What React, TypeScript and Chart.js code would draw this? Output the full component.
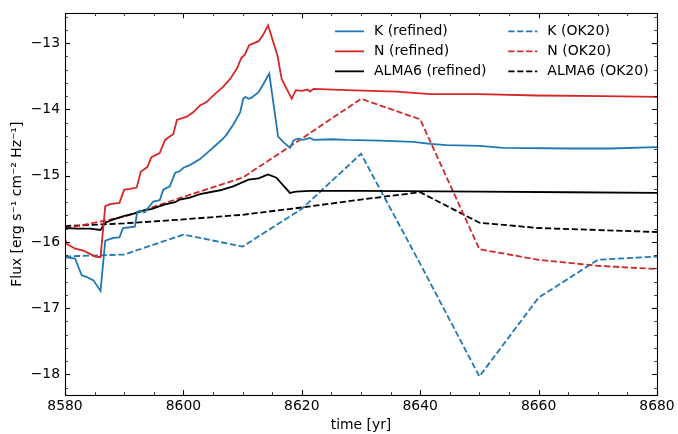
import { useEffect, useRef } from 'react';
import { Chart, registerables } from 'chart.js';

Chart.register(...registerables);

const FONT = '"DejaVu Sans", "Liberation Sans", sans-serif';
const BLUE = '#1f77b4';
const RED = '#d62728';
const BLACK = '#000000';

// ---- refined runs ----
const kRefinedT = [8580, 8581.7, 8582.8, 8583.7, 8584.8, 8586.0, 8586.8, 8588.2, 8589.2, 8589.8, 8591.8, 8592.2, 8592.6, 8593.5, 8594.1, 8594.9, 8596.0, 8596.6, 8597.7, 8598.6, 8599.4, 8600.0, 8601.1, 8602.8, 8604.2, 8605.6, 8606.6, 8607.3, 8607.9, 8608.4, 8609.0, 8609.6, 8610.1, 8610.5, 8611.0, 8611.4, 8612.7, 8613.5, 8614.5, 8616.0, 8617.0, 8618.0, 8618.6, 8619.0, 8619.4, 8620.2, 8621.4, 8622.0, 8625, 8627.6, 8633.2, 8638.8, 8641.7, 8644.5, 8650.1, 8654, 8665.3, 8672, 8680];
const kRefinedV = [-16.23, -16.25, -16.50, -16.53, -16.58, -16.74, -15.98, -15.94, -15.93, -15.79, -15.77, -15.55, -15.53, -15.55, -15.48, -15.39, -15.37, -15.21, -15.16, -14.96, -14.93, -14.88, -14.84, -14.75, -14.64, -14.53, -14.45, -14.38, -14.30, -14.23, -14.14, -14.04, -13.84, -13.81, -13.84, -13.83, -13.74, -13.62, -13.46, -14.41, -14.50, -14.58, -14.47, -14.45, -14.44, -14.46, -14.43, -14.46, -14.45, -14.46, -14.47, -14.49, -14.52, -14.54, -14.55, -14.58, -14.59, -14.59, -14.57];

const nRefinedT = [8580, 8580.3, 8581.7, 8583.1, 8584.2, 8585.1, 8586.0, 8586.8, 8587.6, 8589.2, 8590.0, 8591.0, 8592.1, 8592.8, 8593.9, 8594.6, 8596.0, 8596.9, 8598.3, 8598.9, 8600.6, 8601.7, 8602.8, 8603.9, 8605.3, 8606.7, 8607.9, 8609.0, 8609.8, 8610.4, 8611.1, 8612.7, 8613.5, 8614.3, 8615.9, 8616.6, 8618.3, 8619.0, 8620, 8621.0, 8621.4, 8622, 8627.6, 8636, 8641.7, 8650, 8659.7, 8670.9, 8680];
const nRefinedV = [-15.95, -16.03, -16.10, -16.13, -16.18, -16.22, -16.23, -15.46, -15.43, -15.41, -15.21, -15.20, -15.18, -14.94, -14.87, -14.72, -14.66, -14.46, -14.37, -14.16, -14.11, -14.04, -13.94, -13.89, -13.77, -13.66, -13.54, -13.39, -13.22, -13.17, -13.03, -12.97, -12.87, -12.73, -13.19, -13.54, -13.84, -13.71, -13.72, -13.70, -13.73, -13.69, -13.71, -13.73, -13.77, -13.77, -13.79, -13.80, -13.81];

const almaRefinedT = [8580, 8580.3, 8582.0, 8584.2, 8586.0, 8586.8, 8588.2, 8589.9, 8591.8, 8593.0, 8594.7, 8596.0, 8597.1, 8598.6, 8599.4, 8601.1, 8602.8, 8606.2, 8608.4, 8611.0, 8612.7, 8614.3, 8615.7, 8618.0, 8619.0, 8621.4, 8630, 8650, 8665, 8680];
const almaRefinedV = [-15.76, -15.79, -15.80, -15.80, -15.82, -15.71, -15.66, -15.61, -15.57, -15.53, -15.50, -15.46, -15.43, -15.40, -15.36, -15.33, -15.28, -15.22, -15.16, -15.06, -15.04, -14.98, -15.03, -15.26, -15.24, -15.23, -15.23, -15.24, -15.25, -15.26];

// ---- OK20 runs ----
const ok20T = [8580, 8590, 8600, 8610, 8620, 8630, 8640, 8650, 8660, 8670, 8680];
const kOk20V = [-16.22, -16.19, -15.89, -16.07, -15.5, -14.67, -16.33, -18.03, -16.84, -16.27, -16.22];
const nOk20V = [-15.8, -15.62, -15.32, -15.03, -14.44, -13.84, -14.15, -16.11, -16.27, -16.36, -16.41];
const almaOk20V = [-15.76, -15.72, -15.66, -15.59, -15.48, -15.36, -15.25, -15.71, -15.79, -15.82, -15.85];

// ---- axes ----
const xMajorTicks = [8580, 8600, 8620, 8640, 8660, 8680];
const yMajorTicks = [-18, -17, -16, -15, -14, -13];
const X_MIN = 8580, X_MAX = 8680, Y_MIN = -18.31, Y_MAX = -12.55;

const labels = ['K (refined)', 'N (refined)', 'ALMA6 (refined)', 'K (OK20)', 'N (OK20)', 'ALMA6 (OK20)'];

function pts(t: number[], v: number[]) {
  return t.map((x, i) => ({ x, y: v[i] }));
}

const DASH = [6.2, 2.7];
const LW = 1.8;

const frameTicksPlugin = {
  id: 'frameTicks',
  afterDraw(chart: any) {
    const { ctx, chartArea: a, scales } = chart;
    const xs = scales.x, ys = scales.y;
    ctx.save();
    ctx.strokeStyle = '#000';
    const tick = (x1: number, y1: number, x2: number, y2: number, w: number) => {
      ctx.lineWidth = w;
      ctx.beginPath();
      ctx.moveTo(x1, y1);
      ctx.lineTo(x2, y2);
      ctx.stroke();
    };
    const MAJ = 4.9, MIN = 2.8;
    for (let v = X_MIN; v <= X_MAX + 1e-9; v += 5) {
      const px = Math.round(xs.getPixelForValue(v)) + 0.5;
      const major = xMajorTicks.includes(v);
      const L = major ? MAJ : MIN;
      const w = major ? 1.1 : 0.8;
      tick(px, a.bottom, px, a.bottom - L, w);
      tick(px, a.top, px, a.top + L, w);
    }
    for (let k = -92; k <= -63; k++) {
      const v = k * 0.2;
      if (v < Y_MIN || v > Y_MAX) continue;
      const py = Math.round(ys.getPixelForValue(v)) + 0.5;
      const major = k % 5 === 0;
      const L = major ? MAJ : MIN;
      const w = major ? 1.1 : 0.8;
      tick(a.left, py, a.left + L, py, w);
      tick(a.right, py, a.right - L, py, w);
    }
    ctx.lineWidth = 1.1;
    ctx.strokeRect(Math.round(a.left) + 0.5, Math.round(a.top) + 0.5, Math.round(a.right - a.left), Math.round(a.bottom - a.top));
    ctx.restore();
  },
};

const legendPlugin = {
  id: 'customLegend',
  afterDraw(chart: any) {
    const { ctx, chartArea: a } = chart;
    const ds = chart.data.datasets;
    ctx.save();
    ctx.font = `14px ${FONT}`;
    ctx.textBaseline = 'middle';
    ctx.fillStyle = '#000';
    ds.forEach((d: any, i: number) => {
      const col = Math.floor(i / 3);
      const row = i % 3;
      const x0 = a.left + (col === 0 ? 270 : 443.3);
      const y = a.top + 18 + row * 20;
      ctx.strokeStyle = d.borderColor;
      ctx.lineWidth = d.borderWidth;
      ctx.setLineDash(d.borderDash || []);
      ctx.beginPath();
      ctx.moveTo(x0, y);
      ctx.lineTo(x0 + 29, y);
      ctx.stroke();
      ctx.setLineDash([]);
      ctx.fillText(d.label, x0 + 39, y + 0.5);
    });
    ctx.restore();
  },
};

function minus(v: number) {
  return v < 0 ? '\u2212' + Math.abs(v) : String(v);
}

export default function App() {
  const ref = useRef<HTMLCanvasElement | null>(null);
  useEffect(() => {
    document.body.style.margin = '0';
    const canvas = ref.current;
    if (!canvas) return;
    const mk = (label: string, t: number[], v: number[], color: string, dashed: boolean) => ({
      label,
      data: pts(t, v),
      borderColor: color,
      backgroundColor: color,
      borderWidth: LW,
      borderDash: dashed ? DASH : [],
      pointRadius: 0,
      tension: 0,
      fill: false,
    });
    const chart = new Chart(canvas, {
      type: 'line',
      data: {
        datasets: [
          mk(labels[0], kRefinedT, kRefinedV, BLUE, false),
          mk(labels[1], nRefinedT, nRefinedV, RED, false),
          mk(labels[2], almaRefinedT, almaRefinedV, BLACK, false),
          mk(labels[3], ok20T, kOk20V, BLUE, true),
          mk(labels[4], ok20T, nOk20V, RED, true),
          mk(labels[5], ok20T, almaOk20V, BLACK, true),
        ] as any,
      },
      options: {
        animation: false,
        responsive: false,
        devicePixelRatio: 1,
        layout: { padding: { top: 4, right: 21, left: 0, bottom: 0 } },
        plugins: { legend: { display: false }, tooltip: { enabled: false } },
        scales: {
          x: {
            type: 'linear',
            min: X_MIN,
            max: X_MAX,
            grid: { display: false, drawTicks: false },
            border: { display: false },
            ticks: {
              stepSize: 20,
              color: '#000',
              padding: 3,
              font: { family: FONT, size: 13.9 },
              maxRotation: 0,
              callback: (v: any) => String(v),
            },
            title: {
              display: true,
              text: 'time [yr]',
              color: '#000',
              font: { family: FONT, size: 13.9 },
              padding: { top: 2, bottom: 0 },
            },
            afterFit: (s: any) => { s.height = 39; },
          },
          y: {
            type: 'linear',
            min: Y_MIN,
            max: Y_MAX,
            grid: { display: false, drawTicks: false },
            border: { display: false },
            ticks: {
              stepSize: 1,
              includeBounds: false,
              color: '#000',
              padding: 5,
              font: { family: FONT, size: 13.9 },
              callback: (v: any) => (yMajorTicks.includes(Math.round(v)) ? minus(Math.round(v)) : ''),
            },
            title: {
              display: true,
              text: 'Flux [erg s\u207B\u00B9 cm\u207B\u00B2 Hz\u207B\u00B9]',
              color: '#000',
              font: { family: FONT, size: 13.9 },
              padding: { top: 9, bottom: 0 },
            },
            afterFit: (s: any) => { s.width = 65; },
          },
        },
      },
      plugins: [frameTicksPlugin, legendPlugin],
    } as any);
    return () => chart.destroy();
  }, []);
  return (
    <div style={{ width: 678, height: 434 }}>
      <canvas ref={ref} width={678} height={434} style={{ display: 'block', width: 678, height: 434 }} />
    </div>
  );
}
